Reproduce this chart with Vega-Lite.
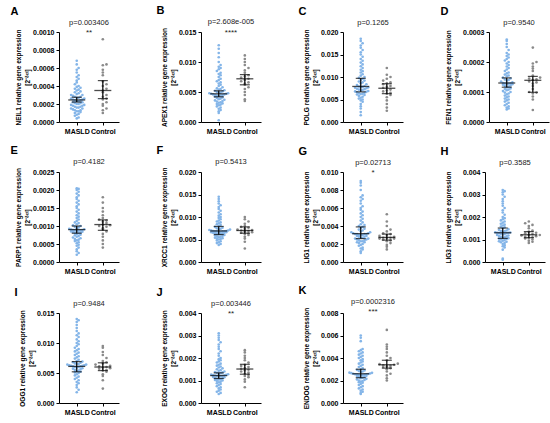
{
"$schema":"https://vega.github.io/schema/vega-lite/v6.json",
"padding":{"left":10,"right":4,"top":5,"bottom":5},
"config":{"view":{"stroke":null},"font":"Liberation Sans",
"axis":{"grid":false,"domainColor":"black","tickColor":"black","labelColor":"black","titleColor":"black","labelFont":"Liberation Sans","titleFont":"Liberation Sans","labelFontWeight":"bold","labelFontSize":7,"tickSize":3,"domainWidth":1,"tickWidth":1},
"axisY":{"titleFontSize":6.5,"titleFontWeight":"bold","titleLineHeight":9,"titlePadding":2,"labelPadding":2},
"axisX":{"labelPadding":2,"labelAngle":0},
"title":{"fontSize":7.5,"fontWeight":"normal","color":"#222222","font":"Liberation Sans","subtitleFont":"Liberation Sans","subtitleFontSize":8,"subtitleColor":"#222222","subtitlePadding":0,"offset":-9,"anchor":"middle","frame":"group"},
"circle":{"size":7,"opacity":1}},
"data":{"values":[
{"p":"A","g":"MASLD","mid":0.000245,"lo":0.000222,"hi":0.000275},{"p":"A","g":"Control","mid":0.00035,"lo":0.00026,"hi":0.00046},
{"p":"B","g":"MASLD","mid":0.0047,"lo":0.0042,"hi":0.0052},{"p":"B","g":"Control","mid":0.0072,"lo":0.0062,"hi":0.0079},
{"p":"C","g":"MASLD","mid":0.0079,"lo":0.0067,"hi":0.0097},{"p":"C","g":"Control","mid":0.0075,"lo":0.0063,"hi":0.0085},
{"p":"D","g":"MASLD","mid":0.00013,"lo":0.000116,"hi":0.000147},{"p":"D","g":"Control","mid":0.000139,"lo":0.000099,"hi":0.000152},
{"p":"E","g":"MASLD","mid":0.0009,"lo":0.0008,"hi":0.001},{"p":"E","g":"Control","mid":0.00104,"lo":0.00088,"hi":0.00117},
{"p":"F","g":"MASLD","mid":0.0069,"lo":0.0061,"hi":0.0079},{"p":"F","g":"Control","mid":0.007,"lo":0.0064,"hi":0.0078},
{"p":"G","g":"MASLD","mid":0.00315,"lo":0.0026,"hi":0.0039},{"p":"G","g":"Control","mid":0.00273,"lo":0.00243,"hi":0.0031},
{"p":"H","g":"MASLD","mid":0.0013,"lo":0.00105,"hi":0.00151},{"p":"H","g":"Control","mid":0.00121,"lo":0.00108,"hi":0.00135},
{"p":"I","g":"MASLD","mid":0.0061,"lo":0.0052,"hi":0.0069},{"p":"I","g":"Control","mid":0.006,"lo":0.0054,"hi":0.0067},
{"p":"J","g":"MASLD","mid":0.00122,"lo":0.00109,"hi":0.00134},{"p":"J","g":"Control","mid":0.00151,"lo":0.00128,"hi":0.00172},
{"p":"K","g":"MASLD","mid":0.0026,"lo":0.00225,"hi":0.003},{"p":"K","g":"Control","mid":0.0034,"lo":0.0031,"hi":0.0038},
{"p":"A","g":"MASLD","v":0.00004},{"p":"A","g":"MASLD","v":0.00005},{"p":"A","g":"MASLD","v":0.00007},{"p":"A","g":"MASLD","v":0.00008},{"p":"A","g":"MASLD","v":0.00009},{"p":"A","g":"MASLD","v":0.0001},{"p":"A","g":"MASLD","v":0.00011},{"p":"A","g":"MASLD","v":0.00012},{"p":"A","g":"MASLD","v":0.00012},{"p":"A","g":"MASLD","v":0.00013},{"p":"A","g":"MASLD","v":0.00013},{"p":"A","g":"MASLD","v":0.00014},{"p":"A","g":"MASLD","v":0.00015},{"p":"A","g":"MASLD","v":0.00015},{"p":"A","g":"MASLD","v":0.00016},{"p":"A","g":"MASLD","v":0.00016},{"p":"A","g":"MASLD","v":0.00017},{"p":"A","g":"MASLD","v":0.00017},{"p":"A","g":"MASLD","v":0.00018},{"p":"A","g":"MASLD","v":0.00018},{"p":"A","g":"MASLD","v":0.00019},{"p":"A","g":"MASLD","v":0.00019},{"p":"A","g":"MASLD","v":0.0002},{"p":"A","g":"MASLD","v":0.0002},{"p":"A","g":"MASLD","v":0.00021},{"p":"A","g":"MASLD","v":0.00021},{"p":"A","g":"MASLD","v":0.00022},{"p":"A","g":"MASLD","v":0.00022},{"p":"A","g":"MASLD","v":0.00023},{"p":"A","g":"MASLD","v":0.00023},{"p":"A","g":"MASLD","v":0.00024},{"p":"A","g":"MASLD","v":0.00024},{"p":"A","g":"MASLD","v":0.00025},{"p":"A","g":"MASLD","v":0.00025},{"p":"A","g":"MASLD","v":0.00026},{"p":"A","g":"MASLD","v":0.00026},{"p":"A","g":"MASLD","v":0.00027},{"p":"A","g":"MASLD","v":0.00027},{"p":"A","g":"MASLD","v":0.00028},{"p":"A","g":"MASLD","v":0.00028},{"p":"A","g":"MASLD","v":0.00029},{"p":"A","g":"MASLD","v":0.0003},{"p":"A","g":"MASLD","v":0.0003},{"p":"A","g":"MASLD","v":0.00031},{"p":"A","g":"MASLD","v":0.00032},{"p":"A","g":"MASLD","v":0.00033},{"p":"A","g":"MASLD","v":0.00034},{"p":"A","g":"MASLD","v":0.00035},{"p":"A","g":"MASLD","v":0.00036},{"p":"A","g":"MASLD","v":0.00037},{"p":"A","g":"MASLD","v":0.00038},{"p":"A","g":"MASLD","v":0.00039},{"p":"A","g":"MASLD","v":0.0004},{"p":"A","g":"MASLD","v":0.00042},{"p":"A","g":"MASLD","v":0.00044},{"p":"A","g":"MASLD","v":0.00046},{"p":"A","g":"MASLD","v":0.00048},{"p":"A","g":"MASLD","v":0.0005},{"p":"A","g":"MASLD","v":0.00052},{"p":"A","g":"MASLD","v":0.00055},{"p":"A","g":"MASLD","v":0.00058},{"p":"A","g":"MASLD","v":0.0006},{"p":"A","g":"MASLD","v":0.00064},{"p":"A","g":"MASLD","v":0.00068},
{"p":"A","g":"Control","v":0.0001},{"p":"A","g":"Control","v":0.00013},{"p":"A","g":"Control","v":0.00015},{"p":"A","g":"Control","v":0.00018},{"p":"A","g":"Control","v":0.0002},{"p":"A","g":"Control","v":0.00022},{"p":"A","g":"Control","v":0.00025},{"p":"A","g":"Control","v":0.00026},{"p":"A","g":"Control","v":0.00028},{"p":"A","g":"Control","v":0.0003},{"p":"A","g":"Control","v":0.00033},{"p":"A","g":"Control","v":0.00035},{"p":"A","g":"Control","v":0.00037},{"p":"A","g":"Control","v":0.0004},{"p":"A","g":"Control","v":0.00042},{"p":"A","g":"Control","v":0.00045},{"p":"A","g":"Control","v":0.00052},{"p":"A","g":"Control","v":0.00055},{"p":"A","g":"Control","v":0.00058},{"p":"A","g":"Control","v":0.00063},{"p":"A","g":"Control","v":0.00064},{"p":"A","g":"Control","v":0.00092},
{"p":"B","g":"MASLD","v":0.0003},{"p":"B","g":"MASLD","v":0.0015},{"p":"B","g":"MASLD","v":0.0018},{"p":"B","g":"MASLD","v":0.002},{"p":"B","g":"MASLD","v":0.0022},{"p":"B","g":"MASLD","v":0.0024},{"p":"B","g":"MASLD","v":0.0026},{"p":"B","g":"MASLD","v":0.0028},{"p":"B","g":"MASLD","v":0.0029},{"p":"B","g":"MASLD","v":0.003},{"p":"B","g":"MASLD","v":0.0031},{"p":"B","g":"MASLD","v":0.0032},{"p":"B","g":"MASLD","v":0.0033},{"p":"B","g":"MASLD","v":0.0034},{"p":"B","g":"MASLD","v":0.0035},{"p":"B","g":"MASLD","v":0.0036},{"p":"B","g":"MASLD","v":0.0037},{"p":"B","g":"MASLD","v":0.0038},{"p":"B","g":"MASLD","v":0.0039},{"p":"B","g":"MASLD","v":0.004},{"p":"B","g":"MASLD","v":0.0041},{"p":"B","g":"MASLD","v":0.0042},{"p":"B","g":"MASLD","v":0.0043},{"p":"B","g":"MASLD","v":0.0044},{"p":"B","g":"MASLD","v":0.0044},{"p":"B","g":"MASLD","v":0.0045},{"p":"B","g":"MASLD","v":0.0045},{"p":"B","g":"MASLD","v":0.0046},{"p":"B","g":"MASLD","v":0.0046},{"p":"B","g":"MASLD","v":0.0047},{"p":"B","g":"MASLD","v":0.0047},{"p":"B","g":"MASLD","v":0.0048},{"p":"B","g":"MASLD","v":0.0048},{"p":"B","g":"MASLD","v":0.0049},{"p":"B","g":"MASLD","v":0.0049},{"p":"B","g":"MASLD","v":0.005},{"p":"B","g":"MASLD","v":0.0051},{"p":"B","g":"MASLD","v":0.0052},{"p":"B","g":"MASLD","v":0.0053},{"p":"B","g":"MASLD","v":0.0054},{"p":"B","g":"MASLD","v":0.0055},{"p":"B","g":"MASLD","v":0.0056},{"p":"B","g":"MASLD","v":0.0058},{"p":"B","g":"MASLD","v":0.006},{"p":"B","g":"MASLD","v":0.0062},{"p":"B","g":"MASLD","v":0.0064},{"p":"B","g":"MASLD","v":0.0066},{"p":"B","g":"MASLD","v":0.0068},{"p":"B","g":"MASLD","v":0.007},{"p":"B","g":"MASLD","v":0.0072},{"p":"B","g":"MASLD","v":0.0075},{"p":"B","g":"MASLD","v":0.0078},{"p":"B","g":"MASLD","v":0.008},{"p":"B","g":"MASLD","v":0.0082},{"p":"B","g":"MASLD","v":0.0085},{"p":"B","g":"MASLD","v":0.0088},{"p":"B","g":"MASLD","v":0.009},{"p":"B","g":"MASLD","v":0.0092},{"p":"B","g":"MASLD","v":0.0095},{"p":"B","g":"MASLD","v":0.01},{"p":"B","g":"MASLD","v":0.0108},{"p":"B","g":"MASLD","v":0.0115},{"p":"B","g":"MASLD","v":0.0122},{"p":"B","g":"MASLD","v":0.0128},
{"p":"B","g":"Control","v":0.0035},{"p":"B","g":"Control","v":0.0038},{"p":"B","g":"Control","v":0.0045},{"p":"B","g":"Control","v":0.005},{"p":"B","g":"Control","v":0.0055},{"p":"B","g":"Control","v":0.0058},{"p":"B","g":"Control","v":0.0062},{"p":"B","g":"Control","v":0.0064},{"p":"B","g":"Control","v":0.0066},{"p":"B","g":"Control","v":0.0068},{"p":"B","g":"Control","v":0.007},{"p":"B","g":"Control","v":0.0072},{"p":"B","g":"Control","v":0.0074},{"p":"B","g":"Control","v":0.0076},{"p":"B","g":"Control","v":0.0078},{"p":"B","g":"Control","v":0.0082},{"p":"B","g":"Control","v":0.0086},{"p":"B","g":"Control","v":0.009},{"p":"B","g":"Control","v":0.0095},{"p":"B","g":"Control","v":0.01},{"p":"B","g":"Control","v":0.0105},{"p":"B","g":"Control","v":0.0111},
{"p":"C","g":"MASLD","v":0.0015},{"p":"C","g":"MASLD","v":0.0022},{"p":"C","g":"MASLD","v":0.003},{"p":"C","g":"MASLD","v":0.0035},{"p":"C","g":"MASLD","v":0.004},{"p":"C","g":"MASLD","v":0.0045},{"p":"C","g":"MASLD","v":0.0048},{"p":"C","g":"MASLD","v":0.005},{"p":"C","g":"MASLD","v":0.0052},{"p":"C","g":"MASLD","v":0.0054},{"p":"C","g":"MASLD","v":0.0056},{"p":"C","g":"MASLD","v":0.0058},{"p":"C","g":"MASLD","v":0.006},{"p":"C","g":"MASLD","v":0.0061},{"p":"C","g":"MASLD","v":0.0062},{"p":"C","g":"MASLD","v":0.0063},{"p":"C","g":"MASLD","v":0.0064},{"p":"C","g":"MASLD","v":0.0065},{"p":"C","g":"MASLD","v":0.0066},{"p":"C","g":"MASLD","v":0.0067},{"p":"C","g":"MASLD","v":0.0068},{"p":"C","g":"MASLD","v":0.0069},{"p":"C","g":"MASLD","v":0.007},{"p":"C","g":"MASLD","v":0.0071},{"p":"C","g":"MASLD","v":0.0072},{"p":"C","g":"MASLD","v":0.0073},{"p":"C","g":"MASLD","v":0.0074},{"p":"C","g":"MASLD","v":0.0075},{"p":"C","g":"MASLD","v":0.0076},{"p":"C","g":"MASLD","v":0.0077},{"p":"C","g":"MASLD","v":0.0078},{"p":"C","g":"MASLD","v":0.0078},{"p":"C","g":"MASLD","v":0.0079},{"p":"C","g":"MASLD","v":0.008},{"p":"C","g":"MASLD","v":0.0082},{"p":"C","g":"MASLD","v":0.0084},{"p":"C","g":"MASLD","v":0.0086},{"p":"C","g":"MASLD","v":0.0088},{"p":"C","g":"MASLD","v":0.009},{"p":"C","g":"MASLD","v":0.0092},{"p":"C","g":"MASLD","v":0.0094},{"p":"C","g":"MASLD","v":0.0096},{"p":"C","g":"MASLD","v":0.0098},{"p":"C","g":"MASLD","v":0.01},{"p":"C","g":"MASLD","v":0.0103},{"p":"C","g":"MASLD","v":0.0106},{"p":"C","g":"MASLD","v":0.011},{"p":"C","g":"MASLD","v":0.0113},{"p":"C","g":"MASLD","v":0.0116},{"p":"C","g":"MASLD","v":0.012},{"p":"C","g":"MASLD","v":0.0124},{"p":"C","g":"MASLD","v":0.0128},{"p":"C","g":"MASLD","v":0.0132},{"p":"C","g":"MASLD","v":0.0136},{"p":"C","g":"MASLD","v":0.014},{"p":"C","g":"MASLD","v":0.0145},{"p":"C","g":"MASLD","v":0.015},{"p":"C","g":"MASLD","v":0.0155},{"p":"C","g":"MASLD","v":0.016},{"p":"C","g":"MASLD","v":0.0165},{"p":"C","g":"MASLD","v":0.017},{"p":"C","g":"MASLD","v":0.0175},{"p":"C","g":"MASLD","v":0.018},{"p":"C","g":"MASLD","v":0.0185},
{"p":"C","g":"Control","v":0.0025},{"p":"C","g":"Control","v":0.0032},{"p":"C","g":"Control","v":0.004},{"p":"C","g":"Control","v":0.0048},{"p":"C","g":"Control","v":0.0055},{"p":"C","g":"Control","v":0.006},{"p":"C","g":"Control","v":0.0063},{"p":"C","g":"Control","v":0.0065},{"p":"C","g":"Control","v":0.0068},{"p":"C","g":"Control","v":0.007},{"p":"C","g":"Control","v":0.0072},{"p":"C","g":"Control","v":0.0076},{"p":"C","g":"Control","v":0.0078},{"p":"C","g":"Control","v":0.008},{"p":"C","g":"Control","v":0.0084},{"p":"C","g":"Control","v":0.0086},{"p":"C","g":"Control","v":0.0088},{"p":"C","g":"Control","v":0.0092},{"p":"C","g":"Control","v":0.0096},{"p":"C","g":"Control","v":0.01},{"p":"C","g":"Control","v":0.0105},{"p":"C","g":"Control","v":0.012},
{"p":"D","g":"MASLD","v":0.000042},{"p":"D","g":"MASLD","v":0.000045},{"p":"D","g":"MASLD","v":0.000048},{"p":"D","g":"MASLD","v":0.000052},{"p":"D","g":"MASLD","v":0.000056},{"p":"D","g":"MASLD","v":0.00006},{"p":"D","g":"MASLD","v":0.000064},{"p":"D","g":"MASLD","v":0.000068},{"p":"D","g":"MASLD","v":0.000072},{"p":"D","g":"MASLD","v":0.000075},{"p":"D","g":"MASLD","v":0.000078},{"p":"D","g":"MASLD","v":0.000082},{"p":"D","g":"MASLD","v":0.000085},{"p":"D","g":"MASLD","v":0.000088},{"p":"D","g":"MASLD","v":0.000092},{"p":"D","g":"MASLD","v":0.000095},{"p":"D","g":"MASLD","v":0.000098},{"p":"D","g":"MASLD","v":0.0001},{"p":"D","g":"MASLD","v":0.000103},{"p":"D","g":"MASLD","v":0.000106},{"p":"D","g":"MASLD","v":0.000108},{"p":"D","g":"MASLD","v":0.00011},{"p":"D","g":"MASLD","v":0.000112},{"p":"D","g":"MASLD","v":0.000115},{"p":"D","g":"MASLD","v":0.000118},{"p":"D","g":"MASLD","v":0.00012},{"p":"D","g":"MASLD","v":0.000122},{"p":"D","g":"MASLD","v":0.000124},{"p":"D","g":"MASLD","v":0.000126},{"p":"D","g":"MASLD","v":0.000127},{"p":"D","g":"MASLD","v":0.000128},{"p":"D","g":"MASLD","v":0.000128},{"p":"D","g":"MASLD","v":0.000129},{"p":"D","g":"MASLD","v":0.00013},{"p":"D","g":"MASLD","v":0.000132},{"p":"D","g":"MASLD","v":0.000135},{"p":"D","g":"MASLD","v":0.000138},{"p":"D","g":"MASLD","v":0.00014},{"p":"D","g":"MASLD","v":0.000142},{"p":"D","g":"MASLD","v":0.000145},{"p":"D","g":"MASLD","v":0.000148},{"p":"D","g":"MASLD","v":0.000152},{"p":"D","g":"MASLD","v":0.000155},{"p":"D","g":"MASLD","v":0.000158},{"p":"D","g":"MASLD","v":0.000162},{"p":"D","g":"MASLD","v":0.000165},{"p":"D","g":"MASLD","v":0.00017},{"p":"D","g":"MASLD","v":0.000175},{"p":"D","g":"MASLD","v":0.00018},{"p":"D","g":"MASLD","v":0.000185},{"p":"D","g":"MASLD","v":0.00019},{"p":"D","g":"MASLD","v":0.000195},{"p":"D","g":"MASLD","v":0.0002},{"p":"D","g":"MASLD","v":0.000205},{"p":"D","g":"MASLD","v":0.00021},{"p":"D","g":"MASLD","v":0.000215},{"p":"D","g":"MASLD","v":0.00022},{"p":"D","g":"MASLD","v":0.000225},{"p":"D","g":"MASLD","v":0.00023},{"p":"D","g":"MASLD","v":0.00024},{"p":"D","g":"MASLD","v":0.00025},{"p":"D","g":"MASLD","v":0.00026},{"p":"D","g":"MASLD","v":0.00027},{"p":"D","g":"MASLD","v":0.000275},
{"p":"D","g":"Control","v":0.00004},{"p":"D","g":"Control","v":0.000075},{"p":"D","g":"Control","v":0.000085},{"p":"D","g":"Control","v":0.000095},{"p":"D","g":"Control","v":0.000098},{"p":"D","g":"Control","v":0.0001},{"p":"D","g":"Control","v":0.00011},{"p":"D","g":"Control","v":0.00012},{"p":"D","g":"Control","v":0.000128},{"p":"D","g":"Control","v":0.000132},{"p":"D","g":"Control","v":0.000135},{"p":"D","g":"Control","v":0.00014},{"p":"D","g":"Control","v":0.000142},{"p":"D","g":"Control","v":0.000145},{"p":"D","g":"Control","v":0.000148},{"p":"D","g":"Control","v":0.000155},{"p":"D","g":"Control","v":0.00017},{"p":"D","g":"Control","v":0.000178},{"p":"D","g":"Control","v":0.000185},{"p":"D","g":"Control","v":0.000195},{"p":"D","g":"Control","v":0.0002},{"p":"D","g":"Control","v":0.000248},
{"p":"E","g":"MASLD","v":0.0002},{"p":"E","g":"MASLD","v":0.00025},{"p":"E","g":"MASLD","v":0.0003},{"p":"E","g":"MASLD","v":0.00035},{"p":"E","g":"MASLD","v":0.0004},{"p":"E","g":"MASLD","v":0.00045},{"p":"E","g":"MASLD","v":0.00048},{"p":"E","g":"MASLD","v":0.00052},{"p":"E","g":"MASLD","v":0.00055},{"p":"E","g":"MASLD","v":0.00058},{"p":"E","g":"MASLD","v":0.0006},{"p":"E","g":"MASLD","v":0.00062},{"p":"E","g":"MASLD","v":0.00064},{"p":"E","g":"MASLD","v":0.00066},{"p":"E","g":"MASLD","v":0.00068},{"p":"E","g":"MASLD","v":0.0007},{"p":"E","g":"MASLD","v":0.00072},{"p":"E","g":"MASLD","v":0.00074},{"p":"E","g":"MASLD","v":0.00076},{"p":"E","g":"MASLD","v":0.00078},{"p":"E","g":"MASLD","v":0.0008},{"p":"E","g":"MASLD","v":0.00081},{"p":"E","g":"MASLD","v":0.00082},{"p":"E","g":"MASLD","v":0.00083},{"p":"E","g":"MASLD","v":0.00084},{"p":"E","g":"MASLD","v":0.00085},{"p":"E","g":"MASLD","v":0.00086},{"p":"E","g":"MASLD","v":0.00087},{"p":"E","g":"MASLD","v":0.00088},{"p":"E","g":"MASLD","v":0.00088},{"p":"E","g":"MASLD","v":0.00089},{"p":"E","g":"MASLD","v":0.00089},{"p":"E","g":"MASLD","v":0.0009},{"p":"E","g":"MASLD","v":0.00091},{"p":"E","g":"MASLD","v":0.00092},{"p":"E","g":"MASLD","v":0.00094},{"p":"E","g":"MASLD","v":0.00096},{"p":"E","g":"MASLD","v":0.00098},{"p":"E","g":"MASLD","v":0.001},{"p":"E","g":"MASLD","v":0.00102},{"p":"E","g":"MASLD","v":0.00105},{"p":"E","g":"MASLD","v":0.00108},{"p":"E","g":"MASLD","v":0.0011},{"p":"E","g":"MASLD","v":0.00114},{"p":"E","g":"MASLD","v":0.00118},{"p":"E","g":"MASLD","v":0.00122},{"p":"E","g":"MASLD","v":0.00126},{"p":"E","g":"MASLD","v":0.0013},{"p":"E","g":"MASLD","v":0.00135},{"p":"E","g":"MASLD","v":0.0014},{"p":"E","g":"MASLD","v":0.00145},{"p":"E","g":"MASLD","v":0.0015},{"p":"E","g":"MASLD","v":0.00155},{"p":"E","g":"MASLD","v":0.0016},{"p":"E","g":"MASLD","v":0.00165},{"p":"E","g":"MASLD","v":0.0017},{"p":"E","g":"MASLD","v":0.00175},{"p":"E","g":"MASLD","v":0.0018},{"p":"E","g":"MASLD","v":0.00185},{"p":"E","g":"MASLD","v":0.0019},{"p":"E","g":"MASLD","v":0.00195},{"p":"E","g":"MASLD","v":0.002},{"p":"E","g":"MASLD","v":0.00203},{"p":"E","g":"MASLD","v":0.00205},
{"p":"E","g":"Control","v":0.0004},{"p":"E","g":"Control","v":0.0005},{"p":"E","g":"Control","v":0.0006},{"p":"E","g":"Control","v":0.0007},{"p":"E","g":"Control","v":0.00078},{"p":"E","g":"Control","v":0.00085},{"p":"E","g":"Control","v":0.0009},{"p":"E","g":"Control","v":0.00094},{"p":"E","g":"Control","v":0.00098},{"p":"E","g":"Control","v":0.001},{"p":"E","g":"Control","v":0.00102},{"p":"E","g":"Control","v":0.00104},{"p":"E","g":"Control","v":0.00108},{"p":"E","g":"Control","v":0.00112},{"p":"E","g":"Control","v":0.00115},{"p":"E","g":"Control","v":0.00118},{"p":"E","g":"Control","v":0.00122},{"p":"E","g":"Control","v":0.0013},{"p":"E","g":"Control","v":0.0014},{"p":"E","g":"Control","v":0.0015},{"p":"E","g":"Control","v":0.00165},{"p":"E","g":"Control","v":0.0018},
{"p":"F","g":"MASLD","v":0.0038},{"p":"F","g":"MASLD","v":0.004},{"p":"F","g":"MASLD","v":0.0042},{"p":"F","g":"MASLD","v":0.0044},{"p":"F","g":"MASLD","v":0.0046},{"p":"F","g":"MASLD","v":0.0048},{"p":"F","g":"MASLD","v":0.005},{"p":"F","g":"MASLD","v":0.0051},{"p":"F","g":"MASLD","v":0.0052},{"p":"F","g":"MASLD","v":0.0053},{"p":"F","g":"MASLD","v":0.0054},{"p":"F","g":"MASLD","v":0.0055},{"p":"F","g":"MASLD","v":0.0056},{"p":"F","g":"MASLD","v":0.0057},{"p":"F","g":"MASLD","v":0.0058},{"p":"F","g":"MASLD","v":0.0059},{"p":"F","g":"MASLD","v":0.006},{"p":"F","g":"MASLD","v":0.0061},{"p":"F","g":"MASLD","v":0.0062},{"p":"F","g":"MASLD","v":0.0063},{"p":"F","g":"MASLD","v":0.0064},{"p":"F","g":"MASLD","v":0.0064},{"p":"F","g":"MASLD","v":0.0065},{"p":"F","g":"MASLD","v":0.0065},{"p":"F","g":"MASLD","v":0.0066},{"p":"F","g":"MASLD","v":0.0066},{"p":"F","g":"MASLD","v":0.0067},{"p":"F","g":"MASLD","v":0.0067},{"p":"F","g":"MASLD","v":0.0068},{"p":"F","g":"MASLD","v":0.0068},{"p":"F","g":"MASLD","v":0.0068},{"p":"F","g":"MASLD","v":0.0068},{"p":"F","g":"MASLD","v":0.0069},{"p":"F","g":"MASLD","v":0.0069},{"p":"F","g":"MASLD","v":0.007},{"p":"F","g":"MASLD","v":0.007},{"p":"F","g":"MASLD","v":0.0071},{"p":"F","g":"MASLD","v":0.0072},{"p":"F","g":"MASLD","v":0.0073},{"p":"F","g":"MASLD","v":0.0074},{"p":"F","g":"MASLD","v":0.0075},{"p":"F","g":"MASLD","v":0.0076},{"p":"F","g":"MASLD","v":0.0078},{"p":"F","g":"MASLD","v":0.008},{"p":"F","g":"MASLD","v":0.0082},{"p":"F","g":"MASLD","v":0.0084},{"p":"F","g":"MASLD","v":0.0086},{"p":"F","g":"MASLD","v":0.0088},{"p":"F","g":"MASLD","v":0.009},{"p":"F","g":"MASLD","v":0.0092},{"p":"F","g":"MASLD","v":0.0095},{"p":"F","g":"MASLD","v":0.0098},{"p":"F","g":"MASLD","v":0.01},{"p":"F","g":"MASLD","v":0.0103},{"p":"F","g":"MASLD","v":0.0106},{"p":"F","g":"MASLD","v":0.011},{"p":"F","g":"MASLD","v":0.0114},{"p":"F","g":"MASLD","v":0.0118},{"p":"F","g":"MASLD","v":0.0122},{"p":"F","g":"MASLD","v":0.0126},{"p":"F","g":"MASLD","v":0.013},{"p":"F","g":"MASLD","v":0.0135},{"p":"F","g":"MASLD","v":0.014},{"p":"F","g":"MASLD","v":0.0145},
{"p":"F","g":"Control","v":0.003},{"p":"F","g":"Control","v":0.0045},{"p":"F","g":"Control","v":0.0052},{"p":"F","g":"Control","v":0.0056},{"p":"F","g":"Control","v":0.006},{"p":"F","g":"Control","v":0.0062},{"p":"F","g":"Control","v":0.0064},{"p":"F","g":"Control","v":0.0065},{"p":"F","g":"Control","v":0.0066},{"p":"F","g":"Control","v":0.0068},{"p":"F","g":"Control","v":0.0069},{"p":"F","g":"Control","v":0.007},{"p":"F","g":"Control","v":0.0071},{"p":"F","g":"Control","v":0.0072},{"p":"F","g":"Control","v":0.0074},{"p":"F","g":"Control","v":0.0076},{"p":"F","g":"Control","v":0.0078},{"p":"F","g":"Control","v":0.008},{"p":"F","g":"Control","v":0.0085},{"p":"F","g":"Control","v":0.009},{"p":"F","g":"Control","v":0.0095},{"p":"F","g":"Control","v":0.01},
{"p":"G","g":"MASLD","v":0.001},{"p":"G","g":"MASLD","v":0.0012},{"p":"G","g":"MASLD","v":0.0014},{"p":"G","g":"MASLD","v":0.0015},{"p":"G","g":"MASLD","v":0.0016},{"p":"G","g":"MASLD","v":0.0018},{"p":"G","g":"MASLD","v":0.0019},{"p":"G","g":"MASLD","v":0.002},{"p":"G","g":"MASLD","v":0.0021},{"p":"G","g":"MASLD","v":0.0022},{"p":"G","g":"MASLD","v":0.0022},{"p":"G","g":"MASLD","v":0.0023},{"p":"G","g":"MASLD","v":0.0023},{"p":"G","g":"MASLD","v":0.0024},{"p":"G","g":"MASLD","v":0.0024},{"p":"G","g":"MASLD","v":0.0025},{"p":"G","g":"MASLD","v":0.0025},{"p":"G","g":"MASLD","v":0.0026},{"p":"G","g":"MASLD","v":0.0026},{"p":"G","g":"MASLD","v":0.0027},{"p":"G","g":"MASLD","v":0.0027},{"p":"G","g":"MASLD","v":0.0028},{"p":"G","g":"MASLD","v":0.0028},{"p":"G","g":"MASLD","v":0.0029},{"p":"G","g":"MASLD","v":0.0029},{"p":"G","g":"MASLD","v":0.003},{"p":"G","g":"MASLD","v":0.003},{"p":"G","g":"MASLD","v":0.003},{"p":"G","g":"MASLD","v":0.0031},{"p":"G","g":"MASLD","v":0.0031},{"p":"G","g":"MASLD","v":0.0031},{"p":"G","g":"MASLD","v":0.0031},{"p":"G","g":"MASLD","v":0.0032},{"p":"G","g":"MASLD","v":0.0032},{"p":"G","g":"MASLD","v":0.0033},{"p":"G","g":"MASLD","v":0.0033},{"p":"G","g":"MASLD","v":0.0034},{"p":"G","g":"MASLD","v":0.0035},{"p":"G","g":"MASLD","v":0.0036},{"p":"G","g":"MASLD","v":0.0037},{"p":"G","g":"MASLD","v":0.0038},{"p":"G","g":"MASLD","v":0.0039},{"p":"G","g":"MASLD","v":0.004},{"p":"G","g":"MASLD","v":0.0041},{"p":"G","g":"MASLD","v":0.0042},{"p":"G","g":"MASLD","v":0.0044},{"p":"G","g":"MASLD","v":0.0046},{"p":"G","g":"MASLD","v":0.0048},{"p":"G","g":"MASLD","v":0.005},{"p":"G","g":"MASLD","v":0.0052},{"p":"G","g":"MASLD","v":0.0054},{"p":"G","g":"MASLD","v":0.0056},{"p":"G","g":"MASLD","v":0.0058},{"p":"G","g":"MASLD","v":0.006},{"p":"G","g":"MASLD","v":0.0062},{"p":"G","g":"MASLD","v":0.0065},{"p":"G","g":"MASLD","v":0.0068},{"p":"G","g":"MASLD","v":0.007},{"p":"G","g":"MASLD","v":0.0072},{"p":"G","g":"MASLD","v":0.0074},{"p":"G","g":"MASLD","v":0.008},{"p":"G","g":"MASLD","v":0.0085},{"p":"G","g":"MASLD","v":0.0088},{"p":"G","g":"MASLD","v":0.009},
{"p":"G","g":"Control","v":0.0014},{"p":"G","g":"Control","v":0.0017},{"p":"G","g":"Control","v":0.0019},{"p":"G","g":"Control","v":0.0021},{"p":"G","g":"Control","v":0.0023},{"p":"G","g":"Control","v":0.0024},{"p":"G","g":"Control","v":0.0025},{"p":"G","g":"Control","v":0.0026},{"p":"G","g":"Control","v":0.0026},{"p":"G","g":"Control","v":0.0027},{"p":"G","g":"Control","v":0.0027},{"p":"G","g":"Control","v":0.0027},{"p":"G","g":"Control","v":0.0028},{"p":"G","g":"Control","v":0.0029},{"p":"G","g":"Control","v":0.003},{"p":"G","g":"Control","v":0.0031},{"p":"G","g":"Control","v":0.0032},{"p":"G","g":"Control","v":0.0034},{"p":"G","g":"Control","v":0.0036},{"p":"G","g":"Control","v":0.004},{"p":"G","g":"Control","v":0.0045},{"p":"G","g":"Control","v":0.0053},
{"p":"H","g":"MASLD","v":0.0001},{"p":"H","g":"MASLD","v":0.00015},{"p":"H","g":"MASLD","v":0.00055},{"p":"H","g":"MASLD","v":0.00065},{"p":"H","g":"MASLD","v":0.0007},{"p":"H","g":"MASLD","v":0.00075},{"p":"H","g":"MASLD","v":0.0008},{"p":"H","g":"MASLD","v":0.00085},{"p":"H","g":"MASLD","v":0.00088},{"p":"H","g":"MASLD","v":0.0009},{"p":"H","g":"MASLD","v":0.00092},{"p":"H","g":"MASLD","v":0.00095},{"p":"H","g":"MASLD","v":0.00098},{"p":"H","g":"MASLD","v":0.001},{"p":"H","g":"MASLD","v":0.00102},{"p":"H","g":"MASLD","v":0.00104},{"p":"H","g":"MASLD","v":0.00106},{"p":"H","g":"MASLD","v":0.00108},{"p":"H","g":"MASLD","v":0.0011},{"p":"H","g":"MASLD","v":0.00112},{"p":"H","g":"MASLD","v":0.00114},{"p":"H","g":"MASLD","v":0.00116},{"p":"H","g":"MASLD","v":0.00118},{"p":"H","g":"MASLD","v":0.0012},{"p":"H","g":"MASLD","v":0.00122},{"p":"H","g":"MASLD","v":0.00124},{"p":"H","g":"MASLD","v":0.00126},{"p":"H","g":"MASLD","v":0.00128},{"p":"H","g":"MASLD","v":0.00129},{"p":"H","g":"MASLD","v":0.0013},{"p":"H","g":"MASLD","v":0.0013},{"p":"H","g":"MASLD","v":0.00131},{"p":"H","g":"MASLD","v":0.00132},{"p":"H","g":"MASLD","v":0.00134},{"p":"H","g":"MASLD","v":0.00136},{"p":"H","g":"MASLD","v":0.00138},{"p":"H","g":"MASLD","v":0.0014},{"p":"H","g":"MASLD","v":0.00143},{"p":"H","g":"MASLD","v":0.00146},{"p":"H","g":"MASLD","v":0.0015},{"p":"H","g":"MASLD","v":0.00154},{"p":"H","g":"MASLD","v":0.00158},{"p":"H","g":"MASLD","v":0.00162},{"p":"H","g":"MASLD","v":0.00166},{"p":"H","g":"MASLD","v":0.0017},{"p":"H","g":"MASLD","v":0.00175},{"p":"H","g":"MASLD","v":0.0018},{"p":"H","g":"MASLD","v":0.00185},{"p":"H","g":"MASLD","v":0.0019},{"p":"H","g":"MASLD","v":0.00195},{"p":"H","g":"MASLD","v":0.002},{"p":"H","g":"MASLD","v":0.0021},{"p":"H","g":"MASLD","v":0.0022},{"p":"H","g":"MASLD","v":0.0023},{"p":"H","g":"MASLD","v":0.0024},{"p":"H","g":"MASLD","v":0.0025},{"p":"H","g":"MASLD","v":0.0026},{"p":"H","g":"MASLD","v":0.0027},{"p":"H","g":"MASLD","v":0.0028},{"p":"H","g":"MASLD","v":0.0029},{"p":"H","g":"MASLD","v":0.003},{"p":"H","g":"MASLD","v":0.0031},{"p":"H","g":"MASLD","v":0.00315},{"p":"H","g":"MASLD","v":0.0032},
{"p":"H","g":"Control","v":0.00085},{"p":"H","g":"Control","v":0.0009},{"p":"H","g":"Control","v":0.00095},{"p":"H","g":"Control","v":0.001},{"p":"H","g":"Control","v":0.00105},{"p":"H","g":"Control","v":0.00108},{"p":"H","g":"Control","v":0.0011},{"p":"H","g":"Control","v":0.00112},{"p":"H","g":"Control","v":0.00115},{"p":"H","g":"Control","v":0.00118},{"p":"H","g":"Control","v":0.0012},{"p":"H","g":"Control","v":0.00121},{"p":"H","g":"Control","v":0.00124},{"p":"H","g":"Control","v":0.00128},{"p":"H","g":"Control","v":0.0013},{"p":"H","g":"Control","v":0.00135},{"p":"H","g":"Control","v":0.0014},{"p":"H","g":"Control","v":0.0015},{"p":"H","g":"Control","v":0.0016},{"p":"H","g":"Control","v":0.00165},{"p":"H","g":"Control","v":0.00172},{"p":"H","g":"Control","v":0.0018},
{"p":"I","g":"MASLD","v":0.0018},{"p":"I","g":"MASLD","v":0.0022},{"p":"I","g":"MASLD","v":0.0026},{"p":"I","g":"MASLD","v":0.003},{"p":"I","g":"MASLD","v":0.0033},{"p":"I","g":"MASLD","v":0.0035},{"p":"I","g":"MASLD","v":0.0038},{"p":"I","g":"MASLD","v":0.004},{"p":"I","g":"MASLD","v":0.0042},{"p":"I","g":"MASLD","v":0.0044},{"p":"I","g":"MASLD","v":0.0046},{"p":"I","g":"MASLD","v":0.0048},{"p":"I","g":"MASLD","v":0.005},{"p":"I","g":"MASLD","v":0.0051},{"p":"I","g":"MASLD","v":0.0052},{"p":"I","g":"MASLD","v":0.0053},{"p":"I","g":"MASLD","v":0.0054},{"p":"I","g":"MASLD","v":0.0055},{"p":"I","g":"MASLD","v":0.0056},{"p":"I","g":"MASLD","v":0.0057},{"p":"I","g":"MASLD","v":0.0058},{"p":"I","g":"MASLD","v":0.0059},{"p":"I","g":"MASLD","v":0.006},{"p":"I","g":"MASLD","v":0.006},{"p":"I","g":"MASLD","v":0.0061},{"p":"I","g":"MASLD","v":0.0061},{"p":"I","g":"MASLD","v":0.0062},{"p":"I","g":"MASLD","v":0.0062},{"p":"I","g":"MASLD","v":0.0063},{"p":"I","g":"MASLD","v":0.0063},{"p":"I","g":"MASLD","v":0.0064},{"p":"I","g":"MASLD","v":0.0064},{"p":"I","g":"MASLD","v":0.0065},{"p":"I","g":"MASLD","v":0.0065},{"p":"I","g":"MASLD","v":0.0066},{"p":"I","g":"MASLD","v":0.0067},{"p":"I","g":"MASLD","v":0.0068},{"p":"I","g":"MASLD","v":0.0069},{"p":"I","g":"MASLD","v":0.007},{"p":"I","g":"MASLD","v":0.0072},{"p":"I","g":"MASLD","v":0.0074},{"p":"I","g":"MASLD","v":0.0076},{"p":"I","g":"MASLD","v":0.0078},{"p":"I","g":"MASLD","v":0.008},{"p":"I","g":"MASLD","v":0.0082},{"p":"I","g":"MASLD","v":0.0084},{"p":"I","g":"MASLD","v":0.0086},{"p":"I","g":"MASLD","v":0.0088},{"p":"I","g":"MASLD","v":0.009},{"p":"I","g":"MASLD","v":0.0092},{"p":"I","g":"MASLD","v":0.0095},{"p":"I","g":"MASLD","v":0.0098},{"p":"I","g":"MASLD","v":0.01},{"p":"I","g":"MASLD","v":0.0103},{"p":"I","g":"MASLD","v":0.0106},{"p":"I","g":"MASLD","v":0.011},{"p":"I","g":"MASLD","v":0.0113},{"p":"I","g":"MASLD","v":0.0116},{"p":"I","g":"MASLD","v":0.012},{"p":"I","g":"MASLD","v":0.0125},{"p":"I","g":"MASLD","v":0.013},{"p":"I","g":"MASLD","v":0.0135},{"p":"I","g":"MASLD","v":0.0138},{"p":"I","g":"MASLD","v":0.014},
{"p":"I","g":"Control","v":0.0024},{"p":"I","g":"Control","v":0.0038},{"p":"I","g":"Control","v":0.0045},{"p":"I","g":"Control","v":0.0048},{"p":"I","g":"Control","v":0.0052},{"p":"I","g":"Control","v":0.0054},{"p":"I","g":"Control","v":0.0055},{"p":"I","g":"Control","v":0.0057},{"p":"I","g":"Control","v":0.0058},{"p":"I","g":"Control","v":0.0059},{"p":"I","g":"Control","v":0.006},{"p":"I","g":"Control","v":0.0061},{"p":"I","g":"Control","v":0.0062},{"p":"I","g":"Control","v":0.0064},{"p":"I","g":"Control","v":0.0066},{"p":"I","g":"Control","v":0.0068},{"p":"I","g":"Control","v":0.007},{"p":"I","g":"Control","v":0.0075},{"p":"I","g":"Control","v":0.008},{"p":"I","g":"Control","v":0.0085},{"p":"I","g":"Control","v":0.0092},{"p":"I","g":"Control","v":0.0095},
{"p":"J","g":"MASLD","v":0.0004},{"p":"J","g":"MASLD","v":0.00045},{"p":"J","g":"MASLD","v":0.0005},{"p":"J","g":"MASLD","v":0.00055},{"p":"J","g":"MASLD","v":0.0006},{"p":"J","g":"MASLD","v":0.00065},{"p":"J","g":"MASLD","v":0.0007},{"p":"J","g":"MASLD","v":0.00075},{"p":"J","g":"MASLD","v":0.0008},{"p":"J","g":"MASLD","v":0.00084},{"p":"J","g":"MASLD","v":0.00088},{"p":"J","g":"MASLD","v":0.00092},{"p":"J","g":"MASLD","v":0.00095},{"p":"J","g":"MASLD","v":0.00098},{"p":"J","g":"MASLD","v":0.001},{"p":"J","g":"MASLD","v":0.00102},{"p":"J","g":"MASLD","v":0.00104},{"p":"J","g":"MASLD","v":0.00106},{"p":"J","g":"MASLD","v":0.00108},{"p":"J","g":"MASLD","v":0.0011},{"p":"J","g":"MASLD","v":0.00112},{"p":"J","g":"MASLD","v":0.00114},{"p":"J","g":"MASLD","v":0.00116},{"p":"J","g":"MASLD","v":0.00118},{"p":"J","g":"MASLD","v":0.00119},{"p":"J","g":"MASLD","v":0.0012},{"p":"J","g":"MASLD","v":0.00121},{"p":"J","g":"MASLD","v":0.00122},{"p":"J","g":"MASLD","v":0.00123},{"p":"J","g":"MASLD","v":0.00124},{"p":"J","g":"MASLD","v":0.00125},{"p":"J","g":"MASLD","v":0.00126},{"p":"J","g":"MASLD","v":0.00128},{"p":"J","g":"MASLD","v":0.0013},{"p":"J","g":"MASLD","v":0.00132},{"p":"J","g":"MASLD","v":0.00134},{"p":"J","g":"MASLD","v":0.00136},{"p":"J","g":"MASLD","v":0.00138},{"p":"J","g":"MASLD","v":0.0014},{"p":"J","g":"MASLD","v":0.00143},{"p":"J","g":"MASLD","v":0.00146},{"p":"J","g":"MASLD","v":0.0015},{"p":"J","g":"MASLD","v":0.00154},{"p":"J","g":"MASLD","v":0.00158},{"p":"J","g":"MASLD","v":0.00162},{"p":"J","g":"MASLD","v":0.00166},{"p":"J","g":"MASLD","v":0.0017},{"p":"J","g":"MASLD","v":0.00175},{"p":"J","g":"MASLD","v":0.0018},{"p":"J","g":"MASLD","v":0.00185},{"p":"J","g":"MASLD","v":0.0019},{"p":"J","g":"MASLD","v":0.00195},{"p":"J","g":"MASLD","v":0.002},{"p":"J","g":"MASLD","v":0.0021},{"p":"J","g":"MASLD","v":0.0022},{"p":"J","g":"MASLD","v":0.0023},{"p":"J","g":"MASLD","v":0.0024},{"p":"J","g":"MASLD","v":0.0025},{"p":"J","g":"MASLD","v":0.0026},{"p":"J","g":"MASLD","v":0.0027},{"p":"J","g":"MASLD","v":0.0028},{"p":"J","g":"MASLD","v":0.0029},{"p":"J","g":"MASLD","v":0.003},{"p":"J","g":"MASLD","v":0.0031},
{"p":"J","g":"Control","v":0.0007},{"p":"J","g":"Control","v":0.00095},{"p":"J","g":"Control","v":0.00105},{"p":"J","g":"Control","v":0.00115},{"p":"J","g":"Control","v":0.0012},{"p":"J","g":"Control","v":0.00125},{"p":"J","g":"Control","v":0.0013},{"p":"J","g":"Control","v":0.00135},{"p":"J","g":"Control","v":0.0014},{"p":"J","g":"Control","v":0.00145},{"p":"J","g":"Control","v":0.00148},{"p":"J","g":"Control","v":0.00152},{"p":"J","g":"Control","v":0.00155},{"p":"J","g":"Control","v":0.0016},{"p":"J","g":"Control","v":0.00165},{"p":"J","g":"Control","v":0.0017},{"p":"J","g":"Control","v":0.0018},{"p":"J","g":"Control","v":0.0019},{"p":"J","g":"Control","v":0.002},{"p":"J","g":"Control","v":0.0021},{"p":"J","g":"Control","v":0.00225},{"p":"J","g":"Control","v":0.00235},
{"p":"K","g":"MASLD","v":0.0008},{"p":"K","g":"MASLD","v":0.0009},{"p":"K","g":"MASLD","v":0.001},{"p":"K","g":"MASLD","v":0.0011},{"p":"K","g":"MASLD","v":0.0012},{"p":"K","g":"MASLD","v":0.0013},{"p":"K","g":"MASLD","v":0.0014},{"p":"K","g":"MASLD","v":0.0015},{"p":"K","g":"MASLD","v":0.0016},{"p":"K","g":"MASLD","v":0.0017},{"p":"K","g":"MASLD","v":0.0018},{"p":"K","g":"MASLD","v":0.00185},{"p":"K","g":"MASLD","v":0.0019},{"p":"K","g":"MASLD","v":0.00195},{"p":"K","g":"MASLD","v":0.002},{"p":"K","g":"MASLD","v":0.00205},{"p":"K","g":"MASLD","v":0.0021},{"p":"K","g":"MASLD","v":0.00215},{"p":"K","g":"MASLD","v":0.0022},{"p":"K","g":"MASLD","v":0.00225},{"p":"K","g":"MASLD","v":0.0023},{"p":"K","g":"MASLD","v":0.00235},{"p":"K","g":"MASLD","v":0.0024},{"p":"K","g":"MASLD","v":0.00242},{"p":"K","g":"MASLD","v":0.00245},{"p":"K","g":"MASLD","v":0.00248},{"p":"K","g":"MASLD","v":0.0025},{"p":"K","g":"MASLD","v":0.00252},{"p":"K","g":"MASLD","v":0.00254},{"p":"K","g":"MASLD","v":0.00255},{"p":"K","g":"MASLD","v":0.00256},{"p":"K","g":"MASLD","v":0.00258},{"p":"K","g":"MASLD","v":0.0026},{"p":"K","g":"MASLD","v":0.00262},{"p":"K","g":"MASLD","v":0.00265},{"p":"K","g":"MASLD","v":0.00268},{"p":"K","g":"MASLD","v":0.0027},{"p":"K","g":"MASLD","v":0.00275},{"p":"K","g":"MASLD","v":0.0028},{"p":"K","g":"MASLD","v":0.00285},{"p":"K","g":"MASLD","v":0.0029},{"p":"K","g":"MASLD","v":0.00295},{"p":"K","g":"MASLD","v":0.003},{"p":"K","g":"MASLD","v":0.0031},{"p":"K","g":"MASLD","v":0.0032},{"p":"K","g":"MASLD","v":0.0033},{"p":"K","g":"MASLD","v":0.0034},{"p":"K","g":"MASLD","v":0.0035},{"p":"K","g":"MASLD","v":0.0036},{"p":"K","g":"MASLD","v":0.0037},{"p":"K","g":"MASLD","v":0.0038},{"p":"K","g":"MASLD","v":0.0039},{"p":"K","g":"MASLD","v":0.004},{"p":"K","g":"MASLD","v":0.0041},{"p":"K","g":"MASLD","v":0.0042},{"p":"K","g":"MASLD","v":0.0043},{"p":"K","g":"MASLD","v":0.0044},{"p":"K","g":"MASLD","v":0.0045},{"p":"K","g":"MASLD","v":0.0046},{"p":"K","g":"MASLD","v":0.0047},{"p":"K","g":"MASLD","v":0.0048},{"p":"K","g":"MASLD","v":0.0055},{"p":"K","g":"MASLD","v":0.0058},{"p":"K","g":"MASLD","v":0.006},
{"p":"K","g":"Control","v":0.002},{"p":"K","g":"Control","v":0.0022},{"p":"K","g":"Control","v":0.00245},{"p":"K","g":"Control","v":0.0026},{"p":"K","g":"Control","v":0.0028},{"p":"K","g":"Control","v":0.003},{"p":"K","g":"Control","v":0.0031},{"p":"K","g":"Control","v":0.0032},{"p":"K","g":"Control","v":0.00325},{"p":"K","g":"Control","v":0.0033},{"p":"K","g":"Control","v":0.00335},{"p":"K","g":"Control","v":0.0034},{"p":"K","g":"Control","v":0.00345},{"p":"K","g":"Control","v":0.0035},{"p":"K","g":"Control","v":0.0038},{"p":"K","g":"Control","v":0.004},{"p":"K","g":"Control","v":0.0042},{"p":"K","g":"Control","v":0.0045},{"p":"K","g":"Control","v":0.0048},{"p":"K","g":"Control","v":0.005},{"p":"K","g":"Control","v":0.0052},{"p":"K","g":"Control","v":0.0065}
]},
"transform":[
{"calculate":"datum.g=='MASLD'?0:1","as":"gi"},
{"joinaggregate":[{"op":"max","field":"v","as":"vmax"}],"groupby":["p"]},
{"calculate":"datum.v==null?-1:floor(datum.v/datum.vmax*24)","as":"bin"},
{"window":[{"op":"row_number","as":"r"}],"groupby":["p","g","bin"],"sort":[{"field":"v","order":"ascending"}]},
{"calculate":"datum.gi+(datum.r%2==0?1:-1)*floor(datum.r/2)*(datum.gi==0?0.072:0.14)","as":"xj"}
],
"spacing":10,
"vconcat":[
{"hconcat":[
{"title":{"text":"A","anchor":"start","frame":"bounds","fontSize":11,"fontWeight":"bold","color":"black","offset":2,"dx":-5},"vconcat":[{"title":{"text":"p=0.003406","subtitle":"**"},"width":60,"height":90,"transform":[{"filter":"datum.p=='A'"}],"resolve":{"axis":{"x":"independent","y":"independent"}},"layer":[
{"mark":"circle","encoding":{"x":{"field":"xj","type":"quantitative","scale":{"domain":[-0.68,1.62],"nice":false,"zero":false},"axis":{"values":[0,1],"labelExpr":"datum.value==0?'MASLD':'Control'","title":null}},"y":{"field":"v","type":"quantitative","scale":{"domain":[0,0.001],"nice":false},"axis":{"values":[0,0.0002,0.0004,0.0006,0.0008,0.001],"format":".4f","title":["NEIL1 relative gene expression","[2⁻ᵟᶜᵗ]"]}},"color":{"field":"g","type":"nominal","scale":{"domain":["MASLD","Control"],"range":["#84b5e8","#8a8a8a"]},"legend":null}}},
{"mark":{"type":"errorbar","ticks":true,"size":10,"thickness":1.2,"color":"black"},"encoding":{"x":{"field":"gi","type":"quantitative","axis":null},"y":{"field":"lo","type":"quantitative","axis":null},"y2":{"field":"hi"}}},
{"mark":{"type":"tick","orient":"horizontal","size":17,"thickness":1.3,"color":"black"},"encoding":{"x":{"field":"gi","type":"quantitative","axis":null},"y":{"field":"mid","type":"quantitative","axis":null}}}]}]},
{"title":{"text":"B","anchor":"start","frame":"bounds","fontSize":11,"fontWeight":"bold","color":"black","offset":2,"dx":-5},"vconcat":[{"title":{"text":"p=2.608e-005","subtitle":"****"},"width":60,"height":90,"transform":[{"filter":"datum.p=='B'"}],"resolve":{"axis":{"x":"independent","y":"independent"}},"layer":[
{"mark":"circle","encoding":{"x":{"field":"xj","type":"quantitative","scale":{"domain":[-0.68,1.62],"nice":false,"zero":false},"axis":{"values":[0,1],"labelExpr":"datum.value==0?'MASLD':'Control'","title":null}},"y":{"field":"v","type":"quantitative","scale":{"domain":[0,0.015],"nice":false},"axis":{"values":[0,0.005,0.01,0.015],"format":".3f","title":["APEX1 relative gene expression","[2⁻ᵟᶜᵗ]"]}},"color":{"field":"g","type":"nominal","scale":{"domain":["MASLD","Control"],"range":["#84b5e8","#8a8a8a"]},"legend":null}}},
{"mark":{"type":"errorbar","ticks":true,"size":10,"thickness":1.2,"color":"black"},"encoding":{"x":{"field":"gi","type":"quantitative","axis":null},"y":{"field":"lo","type":"quantitative","axis":null},"y2":{"field":"hi"}}},
{"mark":{"type":"tick","orient":"horizontal","size":17,"thickness":1.3,"color":"black"},"encoding":{"x":{"field":"gi","type":"quantitative","axis":null},"y":{"field":"mid","type":"quantitative","axis":null}}}]}]},
{"title":{"text":"C","anchor":"start","frame":"bounds","fontSize":11,"fontWeight":"bold","color":"black","offset":2,"dx":-5},"vconcat":[{"title":{"text":"p=0.1265","subtitle":" "},"width":60,"height":90,"transform":[{"filter":"datum.p=='C'"}],"resolve":{"axis":{"x":"independent","y":"independent"}},"layer":[
{"mark":"circle","encoding":{"x":{"field":"xj","type":"quantitative","scale":{"domain":[-0.68,1.62],"nice":false,"zero":false},"axis":{"values":[0,1],"labelExpr":"datum.value==0?'MASLD':'Control'","title":null}},"y":{"field":"v","type":"quantitative","scale":{"domain":[0,0.02],"nice":false},"axis":{"values":[0,0.005,0.01,0.015,0.02],"format":".3f","title":["POLG relative gene expression","[2⁻ᵟᶜᵗ]"]}},"color":{"field":"g","type":"nominal","scale":{"domain":["MASLD","Control"],"range":["#84b5e8","#8a8a8a"]},"legend":null}}},
{"mark":{"type":"errorbar","ticks":true,"size":10,"thickness":1.2,"color":"black"},"encoding":{"x":{"field":"gi","type":"quantitative","axis":null},"y":{"field":"lo","type":"quantitative","axis":null},"y2":{"field":"hi"}}},
{"mark":{"type":"tick","orient":"horizontal","size":17,"thickness":1.3,"color":"black"},"encoding":{"x":{"field":"gi","type":"quantitative","axis":null},"y":{"field":"mid","type":"quantitative","axis":null}}}]}]},
{"title":{"text":"D","anchor":"start","frame":"bounds","fontSize":11,"fontWeight":"bold","color":"black","offset":2,"dx":-5},"vconcat":[{"title":{"text":"p=0.9540","subtitle":" "},"width":60,"height":90,"transform":[{"filter":"datum.p=='D'"}],"resolve":{"axis":{"x":"independent","y":"independent"}},"layer":[
{"mark":"circle","encoding":{"x":{"field":"xj","type":"quantitative","scale":{"domain":[-0.68,1.62],"nice":false,"zero":false},"axis":{"values":[0,1],"labelExpr":"datum.value==0?'MASLD':'Control'","title":null}},"y":{"field":"v","type":"quantitative","scale":{"domain":[0,0.0003],"nice":false},"axis":{"values":[0,0.0001,0.0002,0.0003],"format":".4f","title":["FEN1 relative gene expression","[2⁻ᵟᶜᵗ]"]}},"color":{"field":"g","type":"nominal","scale":{"domain":["MASLD","Control"],"range":["#84b5e8","#8a8a8a"]},"legend":null}}},
{"mark":{"type":"errorbar","ticks":true,"size":10,"thickness":1.2,"color":"black"},"encoding":{"x":{"field":"gi","type":"quantitative","axis":null},"y":{"field":"lo","type":"quantitative","axis":null},"y2":{"field":"hi"}}},
{"mark":{"type":"tick","orient":"horizontal","size":17,"thickness":1.3,"color":"black"},"encoding":{"x":{"field":"gi","type":"quantitative","axis":null},"y":{"field":"mid","type":"quantitative","axis":null}}}]}]}
],"spacing":37},
{"hconcat":[
{"title":{"text":"E","anchor":"start","frame":"bounds","fontSize":11,"fontWeight":"bold","color":"black","offset":2,"dx":-5},"vconcat":[{"title":{"text":"p=0.4182","subtitle":" "},"width":60,"height":90,"transform":[{"filter":"datum.p=='E'"}],"resolve":{"axis":{"x":"independent","y":"independent"}},"layer":[
{"mark":"circle","encoding":{"x":{"field":"xj","type":"quantitative","scale":{"domain":[-0.68,1.62],"nice":false,"zero":false},"axis":{"values":[0,1],"labelExpr":"datum.value==0?'MASLD':'Control'","title":null}},"y":{"field":"v","type":"quantitative","scale":{"domain":[0,0.0025],"nice":false},"axis":{"values":[0,0.0005,0.001,0.0015,0.002,0.0025],"format":".4f","title":["PARP1 relative gene expression","[2⁻ᵟᶜᵗ]"]}},"color":{"field":"g","type":"nominal","scale":{"domain":["MASLD","Control"],"range":["#84b5e8","#8a8a8a"]},"legend":null}}},
{"mark":{"type":"errorbar","ticks":true,"size":10,"thickness":1.2,"color":"black"},"encoding":{"x":{"field":"gi","type":"quantitative","axis":null},"y":{"field":"lo","type":"quantitative","axis":null},"y2":{"field":"hi"}}},
{"mark":{"type":"tick","orient":"horizontal","size":17,"thickness":1.3,"color":"black"},"encoding":{"x":{"field":"gi","type":"quantitative","axis":null},"y":{"field":"mid","type":"quantitative","axis":null}}}]}]},
{"title":{"text":"F","anchor":"start","frame":"bounds","fontSize":11,"fontWeight":"bold","color":"black","offset":2,"dx":-5},"vconcat":[{"title":{"text":"p=0.5413","subtitle":" "},"width":60,"height":90,"transform":[{"filter":"datum.p=='F'"}],"resolve":{"axis":{"x":"independent","y":"independent"}},"layer":[
{"mark":"circle","encoding":{"x":{"field":"xj","type":"quantitative","scale":{"domain":[-0.68,1.62],"nice":false,"zero":false},"axis":{"values":[0,1],"labelExpr":"datum.value==0?'MASLD':'Control'","title":null}},"y":{"field":"v","type":"quantitative","scale":{"domain":[0,0.02],"nice":false},"axis":{"values":[0,0.005,0.01,0.015,0.02],"format":".3f","title":["XRCC1 relative gene expression","[2⁻ᵟᶜᵗ]"]}},"color":{"field":"g","type":"nominal","scale":{"domain":["MASLD","Control"],"range":["#84b5e8","#8a8a8a"]},"legend":null}}},
{"mark":{"type":"errorbar","ticks":true,"size":10,"thickness":1.2,"color":"black"},"encoding":{"x":{"field":"gi","type":"quantitative","axis":null},"y":{"field":"lo","type":"quantitative","axis":null},"y2":{"field":"hi"}}},
{"mark":{"type":"tick","orient":"horizontal","size":17,"thickness":1.3,"color":"black"},"encoding":{"x":{"field":"gi","type":"quantitative","axis":null},"y":{"field":"mid","type":"quantitative","axis":null}}}]}]},
{"title":{"text":"G","anchor":"start","frame":"bounds","fontSize":11,"fontWeight":"bold","color":"black","offset":2,"dx":-5},"vconcat":[{"title":{"text":"p=0.02713","subtitle":"*"},"width":60,"height":90,"transform":[{"filter":"datum.p=='G'"}],"resolve":{"axis":{"x":"independent","y":"independent"}},"layer":[
{"mark":"circle","encoding":{"x":{"field":"xj","type":"quantitative","scale":{"domain":[-0.68,1.62],"nice":false,"zero":false},"axis":{"values":[0,1],"labelExpr":"datum.value==0?'MASLD':'Control'","title":null}},"y":{"field":"v","type":"quantitative","scale":{"domain":[0,0.01],"nice":false},"axis":{"values":[0,0.002,0.004,0.006,0.008,0.01],"format":".3f","title":["LIG1 relative gene expression","[2⁻ᵟᶜᵗ]"]}},"color":{"field":"g","type":"nominal","scale":{"domain":["MASLD","Control"],"range":["#84b5e8","#8a8a8a"]},"legend":null}}},
{"mark":{"type":"errorbar","ticks":true,"size":10,"thickness":1.2,"color":"black"},"encoding":{"x":{"field":"gi","type":"quantitative","axis":null},"y":{"field":"lo","type":"quantitative","axis":null},"y2":{"field":"hi"}}},
{"mark":{"type":"tick","orient":"horizontal","size":17,"thickness":1.3,"color":"black"},"encoding":{"x":{"field":"gi","type":"quantitative","axis":null},"y":{"field":"mid","type":"quantitative","axis":null}}}]}]},
{"title":{"text":"H","anchor":"start","frame":"bounds","fontSize":11,"fontWeight":"bold","color":"black","offset":2,"dx":-5},"vconcat":[{"title":{"text":"p=0.3585","subtitle":" "},"width":60,"height":90,"transform":[{"filter":"datum.p=='H'"}],"resolve":{"axis":{"x":"independent","y":"independent"}},"layer":[
{"mark":"circle","encoding":{"x":{"field":"xj","type":"quantitative","scale":{"domain":[-0.68,1.62],"nice":false,"zero":false},"axis":{"values":[0,1],"labelExpr":"datum.value==0?'MASLD':'Control'","title":null}},"y":{"field":"v","type":"quantitative","scale":{"domain":[0,0.004],"nice":false},"axis":{"values":[0,0.001,0.002,0.003,0.004],"format":".3f","title":["LIG3 relative gene expression","[2⁻ᵟᶜᵗ]"]}},"color":{"field":"g","type":"nominal","scale":{"domain":["MASLD","Control"],"range":["#84b5e8","#8a8a8a"]},"legend":null}}},
{"mark":{"type":"errorbar","ticks":true,"size":10,"thickness":1.2,"color":"black"},"encoding":{"x":{"field":"gi","type":"quantitative","axis":null},"y":{"field":"lo","type":"quantitative","axis":null},"y2":{"field":"hi"}}},
{"mark":{"type":"tick","orient":"horizontal","size":17,"thickness":1.3,"color":"black"},"encoding":{"x":{"field":"gi","type":"quantitative","axis":null},"y":{"field":"mid","type":"quantitative","axis":null}}}]}]}
],"spacing":37},
{"hconcat":[
{"title":{"text":"I","anchor":"start","frame":"bounds","fontSize":11,"fontWeight":"bold","color":"black","offset":2,"dx":-5},"vconcat":[{"title":{"text":"p=0.9484","subtitle":" "},"width":60,"height":90,"transform":[{"filter":"datum.p=='I'"}],"resolve":{"axis":{"x":"independent","y":"independent"}},"layer":[
{"mark":"circle","encoding":{"x":{"field":"xj","type":"quantitative","scale":{"domain":[-0.68,1.62],"nice":false,"zero":false},"axis":{"values":[0,1],"labelExpr":"datum.value==0?'MASLD':'Control'","title":null}},"y":{"field":"v","type":"quantitative","scale":{"domain":[0,0.015],"nice":false},"axis":{"values":[0,0.005,0.01,0.015],"format":".3f","title":["OGG1 relative gene expression","[2⁻ᵟᶜᵗ]"]}},"color":{"field":"g","type":"nominal","scale":{"domain":["MASLD","Control"],"range":["#84b5e8","#8a8a8a"]},"legend":null}}},
{"mark":{"type":"errorbar","ticks":true,"size":10,"thickness":1.2,"color":"black"},"encoding":{"x":{"field":"gi","type":"quantitative","axis":null},"y":{"field":"lo","type":"quantitative","axis":null},"y2":{"field":"hi"}}},
{"mark":{"type":"tick","orient":"horizontal","size":17,"thickness":1.3,"color":"black"},"encoding":{"x":{"field":"gi","type":"quantitative","axis":null},"y":{"field":"mid","type":"quantitative","axis":null}}}]}]},
{"title":{"text":"J","anchor":"start","frame":"bounds","fontSize":11,"fontWeight":"bold","color":"black","offset":2,"dx":-5},"vconcat":[{"title":{"text":"p=0.003446","subtitle":"**"},"width":60,"height":90,"transform":[{"filter":"datum.p=='J'"}],"resolve":{"axis":{"x":"independent","y":"independent"}},"layer":[
{"mark":"circle","encoding":{"x":{"field":"xj","type":"quantitative","scale":{"domain":[-0.68,1.62],"nice":false,"zero":false},"axis":{"values":[0,1],"labelExpr":"datum.value==0?'MASLD':'Control'","title":null}},"y":{"field":"v","type":"quantitative","scale":{"domain":[0,0.004],"nice":false},"axis":{"values":[0,0.001,0.002,0.003,0.004],"format":".3f","title":["EXOG relative gene expression","[2⁻ᵟᶜᵗ]"]}},"color":{"field":"g","type":"nominal","scale":{"domain":["MASLD","Control"],"range":["#84b5e8","#8a8a8a"]},"legend":null}}},
{"mark":{"type":"errorbar","ticks":true,"size":10,"thickness":1.2,"color":"black"},"encoding":{"x":{"field":"gi","type":"quantitative","axis":null},"y":{"field":"lo","type":"quantitative","axis":null},"y2":{"field":"hi"}}},
{"mark":{"type":"tick","orient":"horizontal","size":17,"thickness":1.3,"color":"black"},"encoding":{"x":{"field":"gi","type":"quantitative","axis":null},"y":{"field":"mid","type":"quantitative","axis":null}}}]}]},
{"title":{"text":"K","anchor":"start","frame":"bounds","fontSize":11,"fontWeight":"bold","color":"black","offset":2,"dx":-5},"vconcat":[{"title":{"text":"p=0.0002316","subtitle":"***"},"width":60,"height":90,"transform":[{"filter":"datum.p=='K'"}],"resolve":{"axis":{"x":"independent","y":"independent"}},"layer":[
{"mark":"circle","encoding":{"x":{"field":"xj","type":"quantitative","scale":{"domain":[-0.68,1.62],"nice":false,"zero":false},"axis":{"values":[0,1],"labelExpr":"datum.value==0?'MASLD':'Control'","title":null}},"y":{"field":"v","type":"quantitative","scale":{"domain":[0,0.008],"nice":false},"axis":{"values":[0,0.002,0.004,0.006,0.008],"format":".3f","title":["ENDOG relative gene expression","[2⁻ᵟᶜᵗ]"]}},"color":{"field":"g","type":"nominal","scale":{"domain":["MASLD","Control"],"range":["#84b5e8","#8a8a8a"]},"legend":null}}},
{"mark":{"type":"errorbar","ticks":true,"size":10,"thickness":1.2,"color":"black"},"encoding":{"x":{"field":"gi","type":"quantitative","axis":null},"y":{"field":"lo","type":"quantitative","axis":null},"y2":{"field":"hi"}}},
{"mark":{"type":"tick","orient":"horizontal","size":17,"thickness":1.3,"color":"black"},"encoding":{"x":{"field":"gi","type":"quantitative","axis":null},"y":{"field":"mid","type":"quantitative","axis":null}}}]}]}
],"spacing":37}
]
}
